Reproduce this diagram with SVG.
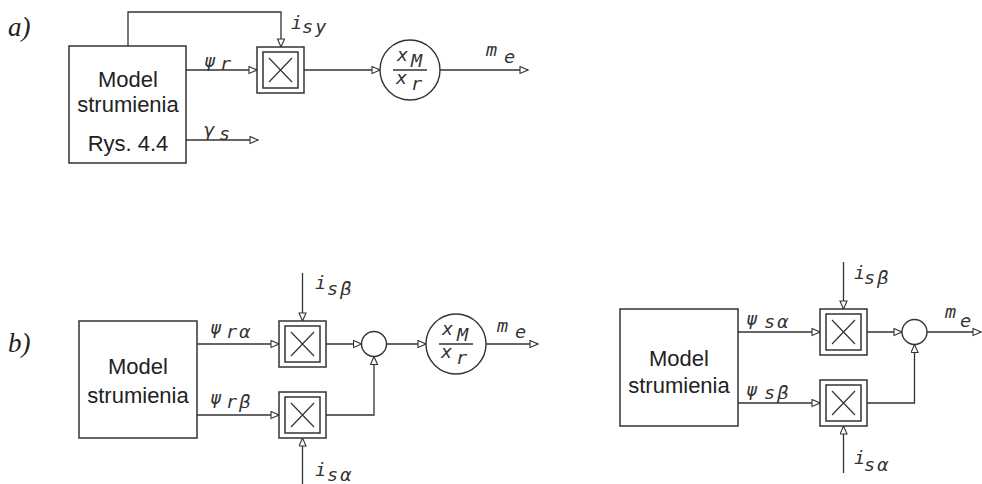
<svg xmlns="http://www.w3.org/2000/svg" xmlns:xlink="http://www.w3.org/1999/xlink" width="982" height="484" viewBox="0 0 982 484">
<style>
.box{fill:#fff;stroke:#333;stroke-width:1.5}
.ln{fill:none;stroke:#333;stroke-width:1.3}
.arr{fill:none;stroke:#333;stroke-width:1.3;marker-end:url(#ah)}
.big{font-family:"Liberation Sans",Arial,sans-serif;font-size:22px;fill:#222;text-anchor:middle}
.tag{font-family:"Liberation Serif","Times New Roman",serif;font-style:italic;font-size:27px;fill:#222}
.lb{font-family:"DejaVu Sans Mono",monospace;font-style:italic;font-size:18.5px;fill:#333}
</style>
<defs>
<marker id="ah" markerUnits="userSpaceOnUse" markerWidth="10" markerHeight="9" refX="9" refY="4" orient="auto">
<path d="M1,0.5 L9,4 L1,7.5 Z" fill="#fff" stroke="#333" stroke-width="1.1"/>
</marker>
<g id="mult">
<rect x="0" y="0" width="47" height="46" fill="#fff" stroke="#333" stroke-width="1.5"/>
<rect x="6" y="5" width="35" height="36" fill="#fff" stroke="#333" stroke-width="1.5"/>
<path d="M12,11 L35,35 M35,11 L12,35" stroke="#333" stroke-width="1.2" fill="none"/>
</g>
</defs>
<rect width="982" height="484" fill="#fff"/>

<text class="tag" x="8" y="36">a)</text>
<text class="tag" x="8" y="352">b)</text>

<g id="connectors">
<path class="arr" d="M128,46 V12 H281 V47"/>
<path class="arr" d="M186,70 H257"/>
<path class="arr" d="M186,140 H258"/>
<path class="arr" d="M304,70 H380"/>
<path class="arr" d="M440,70 H528"/>

<path class="arr" d="M197,344 H279"/>
<path class="arr" d="M197,415 H279"/>
<path class="arr" d="M302.5,273 V321"/>
<path class="arr" d="M302.5,484 V438"/>
<path class="arr" d="M326,344 H361.5"/>
<path class="arr" d="M326,415 H374 V356.5"/>
<path class="arr" d="M386.5,344 H426"/>
<path class="arr" d="M486,344 H538"/>

<path class="arr" d="M738,332 H820"/>
<path class="arr" d="M738,403 H820"/>
<path class="arr" d="M843.5,262 V309"/>
<path class="arr" d="M843.5,473 V426"/>
<path class="arr" d="M867,332 H902"/>
<path class="arr" d="M867,403 H914.5 V344.5"/>
<path class="arr" d="M927,332 H981"/>
</g>

<g id="model-a">
<rect class="box" x="69" y="46" width="117" height="117"/>
<text class="big" x="128" y="87">Model</text>
<text class="big" x="128" y="112">strumienia</text>
<text class="big" x="128" y="151">Rys. 4.4</text>
</g>
<g id="mult-a"><use xlink:href="#mult" x="257" y="47"/></g>
<g id="gain-a">
<circle cx="410" cy="70" r="30" fill="#fff" stroke="#333" stroke-width="1.4"/>
<path class="ln" d="M393,70 H427"/>
<text class="lb" x="397" y="61">x</text><text class="lb" x="411" y="67">M</text>
<text class="lb" x="396" y="84">x</text><text class="lb" x="411" y="90">r</text>
</g>
<g id="labels-a">
<text class="lb" x="204" y="67">ψ</text><text class="lb" x="220" y="70">r</text>
<text class="lb" x="204" y="136">γ</text><text class="lb" x="219" y="140">s</text>
<text class="lb" x="291" y="29">i</text><text class="lb" x="302" y="33" letter-spacing="2">sy</text>
<text class="lb" x="486" y="56">m</text><text class="lb" x="504" y="63">e</text>
</g>

<g id="model-b">
<rect class="box" x="79" y="321" width="118" height="117"/>
<text class="big" x="138" y="374">Model</text>
<text class="big" x="138" y="403">strumienia</text>
</g>
<g id="mult-b1"><use xlink:href="#mult" x="279" y="321"/></g>
<g id="mult-b2"><use xlink:href="#mult" x="279" y="392"/></g>
<g id="sum-b"><circle cx="374" cy="344" r="12.5" fill="#fff" stroke="#333" stroke-width="1.4"/></g>
<g id="gain-b">
<circle cx="456" cy="344" r="30" fill="#fff" stroke="#333" stroke-width="1.4"/>
<path class="ln" d="M439,344 H473"/>
<text class="lb" x="442" y="335">x</text><text class="lb" x="457" y="341">M</text>
<text class="lb" x="441" y="358">x</text><text class="lb" x="456" y="364">r</text>
</g>
<g id="labels-b">
<text class="lb" x="210" y="334">ψ</text><text class="lb" x="226" y="338" letter-spacing="2">rα</text>
<text class="lb" x="210" y="404">ψ</text><text class="lb" x="226" y="408" letter-spacing="2">rβ</text>
<text class="lb" x="315" y="289">i</text><text class="lb" x="327" y="295" letter-spacing="2">sβ</text>
<text class="lb" x="315" y="476">i</text><text class="lb" x="327" y="481" letter-spacing="2">sα</text>
<text class="lb" x="497" y="332">m</text><text class="lb" x="515" y="338">e</text>
</g>

<g id="model-c">
<rect class="box" x="620" y="309" width="118" height="117"/>
<text class="big" x="679" y="366">Model</text>
<text class="big" x="679" y="393">strumienia</text>
</g>
<g id="mult-c1"><use xlink:href="#mult" x="820" y="309"/></g>
<g id="mult-c2"><use xlink:href="#mult" x="820" y="380"/></g>
<g id="sum-c"><circle cx="914.5" cy="332" r="12.5" fill="#fff" stroke="#333" stroke-width="1.4"/></g>
<g id="labels-c">
<text class="lb" x="746" y="325">ψ</text><text class="lb" x="764" y="328" letter-spacing="2">sα</text>
<text class="lb" x="746" y="396">ψ</text><text class="lb" x="764" y="399" letter-spacing="2">sβ</text>
<text class="lb" x="854" y="279">i</text><text class="lb" x="864" y="284" letter-spacing="2">sβ</text>
<text class="lb" x="854" y="464">i</text><text class="lb" x="864" y="471" letter-spacing="2">sα</text>
<text class="lb" x="945" y="318">m</text><text class="lb" x="960" y="327">e</text>
</g>
</svg>
